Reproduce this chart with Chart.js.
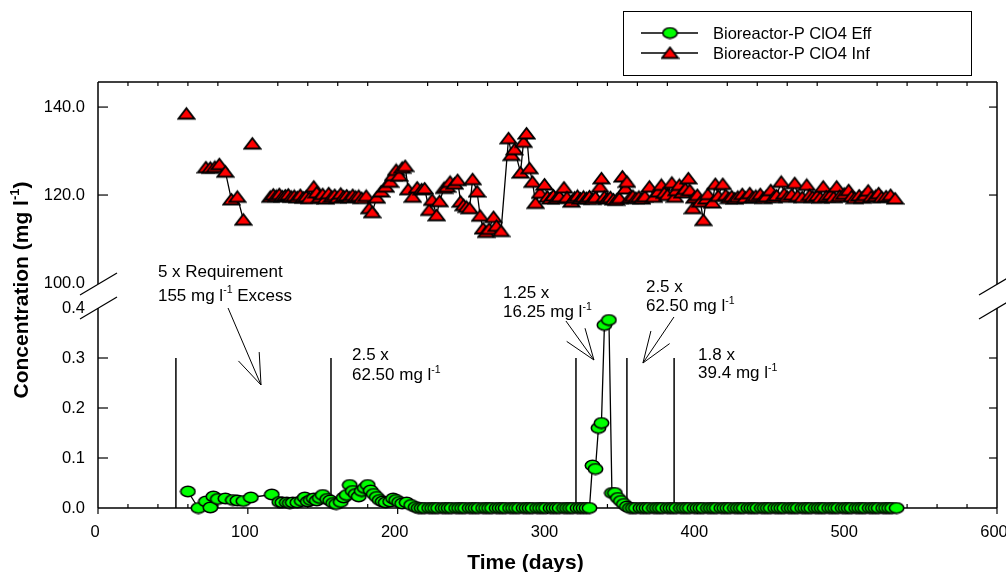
<!DOCTYPE html>
<html>
<head>
<meta charset="utf-8">
<title>Bioreactor-P ClO4</title>
<script src="https://cdn.jsdelivr.net/npm/chart.js@4.4.1/dist/chart.umd.min.js"></script>
<style>
  html, body { margin: 0; padding: 0; background: #fff; }
  #chart { display: block; }
</style>
</head>
<body>
<canvas id="chart" width="1006" height="572"></canvas>
<script>
// Effluent ClO4 (mg/l), lower panel
const effDays = [
    60, 67, 72, 75, 77, 80, 85, 90, 93, 97,
    102, 116, 121, 123, 126, 128, 130, 133, 136, 138,
    140, 142, 144, 146, 148, 150, 153, 155, 157, 159,
    162, 164, 166, 168, 170, 172, 174, 176, 178, 180,
    182, 184, 186, 188, 190, 192, 195, 197, 199, 201,
    203, 206, 209, 212,
    214, 216, 218, 221, 223, 225, 227, 230, 232, 234,
    236, 239, 241, 243, 245, 248, 250, 252, 254, 257,
    259, 261, 263, 266, 268, 270, 272, 275, 277, 279,
    281, 284, 286, 288, 290, 293, 295, 297, 299, 302,
    304, 306, 308, 311, 313, 315, 317, 320, 322, 324,
    326, 328,
    330, 332, 334, 336, 338, 341, 343, 345, 347, 349,
    351, 353,
    355, 357, 359, 362, 364, 366, 368, 371, 373, 375,
    377, 380, 382, 384, 386, 389, 391, 393, 395, 398,
    400, 402, 404, 407, 409, 411, 413, 416, 418, 420,
    422, 425, 427, 429, 431, 434, 436, 438, 440, 443,
    445, 447, 449, 452, 454, 456, 458, 461, 463, 465,
    467, 470, 472, 474, 476, 479, 481, 483, 485, 488,
    490, 492, 494, 497, 499, 501, 503, 506, 508, 510,
    512, 515, 517, 519, 521, 524, 526, 528, 530, 533,
];
const effConc = [
    0.033, 0.000, 0.013, 0.001, 0.023, 0.018, 0.019, 0.016, 0.015, 0.014,
    0.021, 0.027, 0.012, 0.011, 0.011, 0.010, 0.011, 0.011, 0.014, 0.021,
    0.013, 0.016, 0.019, 0.015, 0.020, 0.026, 0.018, 0.015, 0.010, 0.008,
    0.012, 0.021, 0.026, 0.046, 0.034, 0.028, 0.023, 0.034, 0.040, 0.046,
    0.035, 0.028, 0.022, 0.016, 0.013, 0.011, 0.013, 0.019, 0.016, 0.012,
    0.009, 0.011, 0.006, 0.002,
    0, 0, 0, 0, 0, 0, 0, 0, 0, 0,
    0, 0, 0, 0, 0, 0, 0, 0, 0, 0,
    0, 0, 0, 0, 0, 0, 0, 0, 0, 0,
    0, 0, 0, 0, 0, 0, 0, 0, 0, 0,
    0, 0, 0, 0, 0, 0, 0, 0, 0, 0,
    0, 0,
    0.085, 0.078, 0.160, 0.170, 0.366, 0.376, 0.030, 0.030, 0.020, 0.014,
    0.008, 0.003,
    0, 0, 0, 0, 0, 0, 0, 0, 0, 0,
    0, 0, 0, 0, 0, 0, 0, 0, 0, 0,
    0, 0, 0, 0, 0, 0, 0, 0, 0, 0,
    0, 0, 0, 0, 0, 0, 0, 0, 0, 0,
    0, 0, 0, 0, 0, 0, 0, 0, 0, 0,
    0, 0, 0, 0, 0, 0, 0, 0, 0, 0,
    0, 0, 0, 0, 0, 0, 0, 0, 0, 0,
    0, 0, 0, 0, 0, 0, 0, 0, 0, 0,
];

// Influent ClO4 (mg/l), upper panel; null = gap in the line
const infDays = [
    59, 66, 72, 75, 78, 81, 85, 89, 93, 97,
    100, 103, 109,
    115, 117, 119, 121, 123, 125, 127, 129, 131, 133,
    135, 137, 139, 141, 144, 146, 148, 150, 152, 154,
    156, 158, 160, 162, 164, 166, 168, 170, 172, 174,
    176, 179, 181, 183, 186, 189, 192, 195, 197, 199,
    201, 203, 205, 207, 210, 213, 216, 218, 221, 223,
    226, 228, 231, 233, 235, 238, 240, 242, 244, 246,
    248, 250, 253, 255, 257, 259, 261, 264, 266, 269,
    274, 276, 278, 282, 284, 286, 288, 290, 292, 295,
    298, 300, 302, 304, 306, 308, 311, 313, 316, 318,
    320, 322, 324, 326, 328, 330, 332, 335, 336, 338,
    340, 342, 344, 346, 348, 350, 352, 353, 355, 357,
    359, 361, 363, 365, 368, 371, 374, 376, 378, 380,
    383, 385, 386, 388, 390, 392, 394, 395, 397, 398,
    400, 402, 404, 406, 407, 410, 412, 414, 417, 419,
    421, 423, 425, 427, 430, 432, 435, 437, 439, 442,
    444, 446, 449, 451, 453, 456, 458, 460, 463, 465,
    467, 470, 473, 475, 477, 480, 482, 484, 486, 489,
    491, 493, 495, 498, 501, 503, 505, 508, 510, 512,
    514, 516, 519, 521, 523, 526, 529, 532,
];
const infConc = [
    138.5, null, 126.3, 126.2, 126.4, 127.0, 125.3, 119.0, 119.6, 114.4,
    null, 131.7, null,
    119.6, 120.1, 119.8, 120.2, 119.7, 119.9, 120.1, 119.6, 119.8, 119.5,
    120.0, 119.4, 119.7, 119.3, 121.9, 120.6, 119.5, 120.2, 119.2, 120.4,
    119.6, 120.0, 119.4, 120.3, 119.7, 119.9, 119.5, 120.0, 119.6, 119.8,
    119.3, 119.8, 117.0, 116.1, 119.4, 120.8, 121.9, 123.0, 124.5, 125.7,
    124.4, 126.2, 126.6, 121.3, 119.6, 121.7, 121.3, 121.5, 116.6, 118.9,
    115.4, 118.6, 121.6, 121.9, 123.0, 122.6, 123.4, 118.5, 117.7, 117.3,
    117.0, 123.6, 120.8, 115.3, 112.4, 111.6, 112.3, 115.0, 113.0, 111.8,
    132.9, 129.1, 130.4, 125.1, 132.1, 134.0, 126.1, 123.0, 118.2, 120.5,
    122.4, 119.6, 119.2, 119.9, 119.3, 119.7, 121.7, 119.5, 118.5, 119.4,
    119.8, 119.2, 119.6, 119.3, 119.7, 119.1, 119.5, 121.9, 123.8, 119.6,
    119.2, 119.5, 119.0, 118.9, 119.3, 124.2, 121.5, 123.0, 119.4, 119.8,
    119.3, 119.6, 119.2, 119.7, 121.9, 119.6, 120.8, 122.3, 120.5, 120.0,
    122.8, 119.6, 121.1, 122.3, 120.6, 121.4, 123.8, 121.1, 117.0, 119.4,
    120.0, 118.5, 114.3, 119.2, 120.2, 118.3, 122.5, 119.8, 122.5, 120.0,
    119.3, 119.7, 119.2, 119.6, 120.2, 119.4, 120.4, 119.5, 119.8, 120.2,
    119.3, 119.7, 121.1, 119.5, 119.9, 123.0, 120.3, 119.6, 120.1, 122.7,
    119.8, 119.5, 122.3, 120.0, 119.6, 119.9, 119.4, 121.9, 119.7, 120.1,
    119.5, 121.9, 119.8, 120.3, 121.1, 119.7, 119.3, 119.9, 119.4, 120.0,
    121.0, 119.6, 119.8, 120.4, 119.5, 119.7, 120.0, 119.2,
];

const xTickValues = [0, 100, 200, 300, 400, 500, 600];
const lowTickValues = [0, 0.1, 0.2, 0.3, 0.4];
const highTickValues = [100, 120, 140];

// dosing-change markers (day) drawn from 0 to 0.3 on the lower panel
const markerDays = [52, 155.5, 319, 353, 384.5];
const markerTop = 0.3;

// annotation text, placed in data units (day, mg/l on the lower scale)
const annoLabels = [
    { day: 40, conc: 0.462, parts: [["5 x Requirement"]] },
    { day: 40, conc: 0.415, parts: [["155 mg l"], ["-1", true], [" Excess"]] },
    { day: 169.5, conc: 0.296, parts: [["2.5 x"]] },
    { day: 169.5, conc: 0.256, parts: [["62.50 mg l"], ["-1", true]] },
    { day: 270.3, conc: 0.42, parts: [["1.25 x"]] },
    { day: 270.3, conc: 0.382, parts: [["16.25 mg l"], ["-1", true]] },
    { day: 365.7, conc: 0.432, parts: [["2.5 x"]] },
    { day: 365.7, conc: 0.394, parts: [["62.50 mg l"], ["-1", true]] },
    { day: 400.5, conc: 0.296, parts: [["1.8 x"]] },
    { day: 400.5, conc: 0.26, parts: [["39.4 mg l"], ["-1", true]] },
];
const annoArrows = [
    { from: [86.8, 0.400], to: [108.8, 0.246] },
    { from: [312.3, 0.374], to: [331.0, 0.296] },
    { from: [384.4, 0.382], to: [363.7, 0.290] },
];

const FONT = "'Liberation Sans', Arial, Helvetica, sans-serif";
const TICK_SIZE = 16.5;

function setFont(ctx, size, bold) {
    ctx.font = (bold ? "bold " : "") + size + "px " + FONT;
}

function richWidth(ctx, parts, size, bold) {
    let w = 0;
    for (const [t, sup] of parts) {
        setFont(ctx, sup ? size * 0.62 : size, bold);
        w += ctx.measureText(t).width;
    }
    return w;
}

function drawRich(ctx, parts, x, y, size, bold) {
    ctx.textAlign = "left";
    ctx.textBaseline = "alphabetic";
    for (const [t, sup] of parts) {
        setFont(ctx, sup ? size * 0.62 : size, bold);
        ctx.fillText(t, x, sup ? y - size * 0.42 : y);
        x += ctx.measureText(t).width;
    }
}

function makeEllipse() {
    const c = document.createElement("canvas");
    c.width = 17; c.height = 13;
    const g = c.getContext("2d");
    g.beginPath();
    g.ellipse(8.5, 6.5, 7.2, 5.2, 0, 0, Math.PI * 2);
    g.fillStyle = "#00ff00";
    g.fill();
    g.lineWidth = 1.6;
    g.strokeStyle = "#000";
    g.stroke();
    return c;
}

function makeTriangle() {
    const c = document.createElement("canvas");
    c.width = 19; c.height = 15;
    const g = c.getContext("2d");
    g.beginPath();
    g.moveTo(1.5, 12.5);
    g.lineTo(17.5, 12.5);
    g.lineTo(9.5, 2);
    g.closePath();
    g.fillStyle = "#ff0000";
    g.fill();
    g.lineWidth = 1.8;
    g.strokeStyle = "#000";
    g.stroke();
    return c;
}

const circleImg = makeEllipse();
const triangleImg = makeTriangle();

const effData = effDays.map((d, i) => ({ x: d, y: effConc[i] }));
const infData = infDays.map((d, i) => ({ x: d, y: infConc[i] }));

function line(ctx, x1, y1, x2, y2) {
    ctx.beginPath();
    ctx.moveTo(x1, y1);
    ctx.lineTo(x2, y2);
    ctx.stroke();
}

// frame, ticks, axis breaks, dosing markers and arrows
const framePlugin = {
    id: "frame",
    beforeDatasetsDraw(chart) {
        const ctx = chart.ctx;
        const { left, right, top, bottom } = chart.chartArea;
        const xs = chart.scales.x, hi = chart.scales.yHigh, lo = chart.scales.yLow;
        const brk1 = hi.bottom + 1, brk2 = lo.top;
        ctx.save();
        ctx.strokeStyle = "#000";
        ctx.lineWidth = 1.5;
        line(ctx, left, top, right, top);
        line(ctx, left, bottom, right, bottom);
        for (const x of [left, right]) {
            line(ctx, x, top, x, brk1);
            line(ctx, x, brk2, x, bottom);
        }
        ctx.lineWidth = 1.2;
        for (const x of [left, right]) {
            for (const yb of [brk1, brk2]) line(ctx, x - 18, yb + 11, x + 19, yb - 11);
        }
        // x ticks: minor inside every 20 days, major outside every 100
        ctx.lineWidth = 1.2;
        for (let d = 20; d < 600; d += 20) {
            if (d % 100 === 0) continue;
            const px = xs.getPixelForValue(d);
            line(ctx, px, bottom, px, bottom - 4);
            line(ctx, px, top, px, top + 4);
        }
        for (const d of xTickValues) {
            const px = xs.getPixelForValue(d);
            line(ctx, px, bottom, px, bottom + 6);
        }
        // y ticks inward
        const yTicks = [
            ...highTickValues.filter(v => v > 100).map(v => hi.getPixelForValue(v)),
            ...lowTickValues.filter(v => v > 0 && v < 0.4).map(v => lo.getPixelForValue(v)),
        ];
        for (const py of yTicks) {
            line(ctx, left, py, left + 10, py);
            line(ctx, right, py, right - 8, py);
        }
        // dosing markers
        ctx.lineWidth = 1.5;
        for (const d of markerDays) {
            const px = xs.getPixelForValue(d);
            line(ctx, px, lo.getPixelForValue(0), px, lo.getPixelForValue(markerTop));
        }
        // arrows with open heads
        ctx.lineWidth = 1;
        for (const a of annoArrows) {
            const x1 = xs.getPixelForValue(a.from[0]), y1 = lo.getPixelForValue(a.from[1]);
            const x2 = xs.getPixelForValue(a.to[0]), y2 = lo.getPixelForValue(a.to[1]);
            line(ctx, x1, y1, x2, y2);
            const back = Math.atan2(y1 - y2, x1 - x2);
            for (const s of [-1, 1]) {
                const ang = back + s * 20 * Math.PI / 180;
                line(ctx, x2, y2, x2 + 33 * Math.cos(ang), y2 + 33 * Math.sin(ang));
            }
        }
        // annotation text
        ctx.fillStyle = "#000";
        for (const t of annoLabels) {
            drawRich(ctx, t.parts, xs.getPixelForValue(t.day), lo.getPixelForValue(t.conc), 17, false);
        }
        ctx.restore();
    },
    afterDraw(chart) {
        const ctx = chart.ctx;
        const { left, right } = chart.chartArea;
        ctx.save();
        ctx.fillStyle = "#000";
        ctx.strokeStyle = "#000";
        // axis titles
        const yParts = [["Concentration (mg l"], ["-1", true], [")"]];
        const yw = richWidth(ctx, yParts, 21, true);
        ctx.translate(28, 290);
        ctx.rotate(-Math.PI / 2);
        drawRich(ctx, yParts, -yw / 2, 0, 21, true);
        ctx.setTransform(1, 0, 0, 1, 0, 0);
        setFont(ctx, 21, true);
        ctx.textAlign = "center";
        ctx.textBaseline = "alphabetic";
        ctx.fillText("Time (days)", (left + right) / 2 - 22, 569);
        // legend
        ctx.lineWidth = 1;
        ctx.strokeRect(623.5, 11.5, 348, 64);
        const entries = [
            { img: circleImg, label: chart.data.datasets[0].label, y: 33 },
            { img: triangleImg, label: chart.data.datasets[1].label, y: 53 },
        ];
        setFont(ctx, TICK_SIZE, false);
        ctx.textAlign = "left";
        ctx.textBaseline = "middle";
        for (const e of entries) {
            ctx.lineWidth = 1.3;
            line(ctx, 641, e.y, 698, e.y);
            ctx.drawImage(e.img, 670 - e.img.width / 2, e.y - e.img.height / 2);
            ctx.fillText(e.label, 713, e.y + 1);
        }
        ctx.restore();
    },
};

const tickFont = { family: FONT, size: TICK_SIZE };

new Chart(document.getElementById("chart"), {
    type: "line",
    data: {
        datasets: [
            {
                label: "Bioreactor-P ClO4 Eff",
                data: effData,
                yAxisID: "yLow",
                borderColor: "#000",
                borderWidth: 1.3,
                pointStyle: circleImg,
                pointRadius: 5,
                tension: 0,
                clip: false,
            },
            {
                label: "Bioreactor-P ClO4 Inf",
                data: infData,
                yAxisID: "yHigh",
                borderColor: "#000",
                borderWidth: 1.3,
                pointStyle: triangleImg,
                pointRadius: 5,
                tension: 0,
                spanGaps: false,
                clip: false,
            },
        ],
    },
    options: {
        responsive: false,
        animation: false,
        devicePixelRatio: 1,
        events: [],
        layout: { padding: { top: 82, right: 9, bottom: 24, left: 0 } },
        plugins: { legend: { display: false }, tooltip: { enabled: false } },
        scales: {
            x: {
                type: "linear",
                position: "bottom",
                min: 0,
                max: 600,
                afterBuildTicks: s => { s.ticks = xTickValues.map(v => ({ value: v })); },
                afterFit: s => { s.height = 40; s.paddingLeft = 0; s.paddingRight = 0; },
                ticks: { font: tickFont, color: "#000", padding: 15, labelOffset: -3, maxRotation: 0, autoSkip: false },
                grid: { display: false, drawTicks: false },
                border: { display: false },
            },
            yHigh: {
                type: "linear",
                position: "left",
                stack: "conc",
                stackWeight: 201,
                weight: 2,
                min: 100,
                max: 145.7,
                afterBuildTicks: s => { s.ticks = highTickValues.map(v => ({ value: v })); },
                afterFit: s => { s.width = 98; s.paddingTop = 0; s.paddingBottom = 0; },
                ticks: { font: tickFont, color: "#000", padding: 13, autoSkip: false, callback: v => v.toFixed(1) },
                grid: { display: false, drawTicks: false },
                border: { display: false },
            },
            yGap: {
                type: "linear",
                position: "left",
                stack: "conc",
                stackWeight: 25,
                weight: 1,
                display: false,
            },
            yLow: {
                type: "linear",
                position: "left",
                stack: "conc",
                stackWeight: 200,
                weight: 0,
                min: 0,
                max: 0.4,
                afterBuildTicks: s => { s.ticks = lowTickValues.map(v => ({ value: v })); },
                afterFit: s => { s.width = 98; s.paddingTop = 0; s.paddingBottom = 0; },
                ticks: { font: tickFont, color: "#000", padding: 13, autoSkip: false, callback: v => v.toFixed(1) },
                grid: { display: false, drawTicks: false },
                border: { display: false },
            },
        },
    },
    plugins: [framePlugin],
});
</script>
</body>
</html>
